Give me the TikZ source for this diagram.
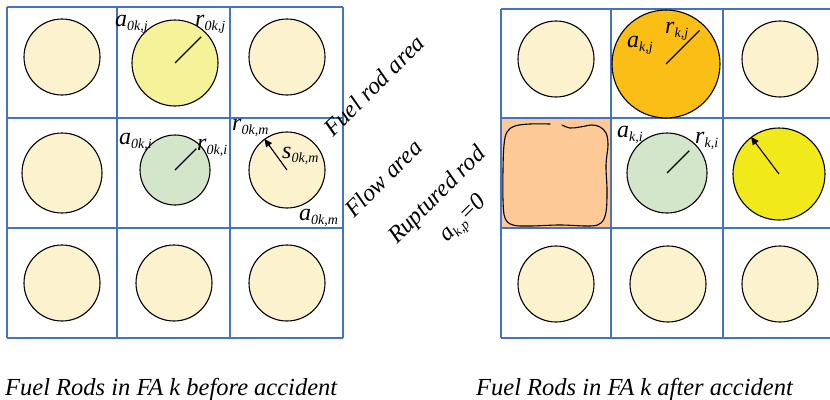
\documentclass[tikz,border=0pt]{standalone}
\usepackage{fontspec}
\setmainfont{Liberation Serif}
\usetikzlibrary{positioning, calc, arrows.meta}

\definecolor{gridblue}{HTML}{4472C4}
\definecolor{rodpale}{HTML}{FCF2CE}
\definecolor{rodlight}{HTML}{F6F29A}
\definecolor{rodgreen}{HTML}{D3E6C9}
\definecolor{rodorange}{HTML}{FBBE14}
\definecolor{rodpeach}{HTML}{FCC997}
\definecolor{rodyellow}{HTML}{F1E91A}

% label with a lowered subscript
\newcommand{\pinlabel}[2]{{\fontsize{24}{24}\selectfont\itshape #1}\raisebox{-4pt}{\fontsize{14}{14}\selectfont\itshape #2}}

\begin{document}
\begin{tikzpicture}[
    % GLOBAL CFG
    x=1pt, y=-1pt,
    % Styles
    grid/.style={% cell borders
        draw=gridblue,
        line width=1.6pt,
        },
    rod/.style={% fuel rod cross section
        circle,
        draw,
        line width=1.1pt,
        inner sep=0pt,
        minimum size=76pt,
        fill=rodpale,
        },
    radius/.style={% radius of a rod
        line width=1.1pt,
        },
    lbl/.style={% labels at the rods
        inner sep=0pt,
        anchor=base west,
        },
    slanted/.style={% rotated notes between the panels
        inner sep=0pt,
        anchor=base west,
        rotate=45,
        font=\fontsize{24}{24}\selectfont\itshape,
        },
    caption/.style={% panel titles
        inner sep=0pt,
        anchor=base west,
        font=\fontsize{24.5}{24.5}\selectfont\itshape,
        },
    ]
\useasboundingbox (0,0) rectangle (830,399);

% Left panel: before accident
\foreach \gx in {7,117,230,343}
    \draw [grid] (\gx,7) -- (\gx,338);
\foreach \gy in {7,118,228,338}
    \draw [grid] (7,\gy) -- (343,\gy);

\node [rod] (L11) at (62,57) {};
\node [rod, minimum size=86pt, fill=rodlight] (L12) at (175,63) {};
\node [rod] (L13) at (287,57) {};
\node [rod, minimum size=80pt] (L21) at (62,173) {};
\node [rod, minimum size=70pt, fill=rodgreen] (L22) at (175,170) {};
\node [rod] (L23) at (287,170) {};
\node [rod] (L31) at (62,283) {};
\node [rod] (L32) at (174,283) {};
\node [rod] (L33) at (287,283) {};

\draw [radius] (L12.center) -- ($(L12.center)!0.85!(L12.45)$);
\draw [radius] (L22.center) -- ($(L22.center)!0.85!(L22.45)$);
\draw [radius, -{Triangle[length=8pt, width=7pt]}] (L23.center) -- (L23.126);

\node [lbl] (a0kj) at (115,26) {\pinlabel{a}{0k,j}};
\node [lbl] (r0kj) at (195,26) {\pinlabel{r}{0k,j}};
\node [lbl] (a0ki) at (119,144) {\pinlabel{a}{0k,i}};
\node [lbl] (r0ki) at (197,150) {\pinlabel{r}{0k,i}};
\node [lbl] (r0km) at (232,130) {\pinlabel{r}{0k,m}};
\node [lbl] (s0km) at (282,158) {\pinlabel{s}{0k,m}};
\node [lbl] (a0km) at (299,220) {\pinlabel{a}{0k,m}};

% Notes between the panels
\node [slanted] (fuelarea) at (333,138) {Fuel rod area};
\node [slanted] (flowarea) at (354,219) {Flow area};
\node [slanted] (rupt) at (397,245) {Ruptured rod};
\node [slanted] (akp) at (447,243) {\pinlabel{a}{k,p}{\fontsize{24}{24}\selectfont =0}};

% Right panel: after accident
\fill [rodpeach] (501,118) rectangle (611,228);
\foreach \gx in {501,611,723}
    \draw [grid] (\gx,9) -- (\gx,338);
\foreach \gy in {9,118,228,338}
    \draw [grid] (501,\gy) -- (830,\gy);

\node [rod] (R11) at (556,59) {};
\node [rod, minimum size=108pt, fill=rodorange] (R12) at (666,64) {};
\node [rod] (R13) at (780,59) {};
\node [rod, minimum size=80pt, fill=rodgreen] (R22) at (667,173) {};
\node [rod, minimum size=92pt, fill=rodyellow] (R23) at (779,174) {};
\node [rod] (R31) at (556,284) {};
\node [rod] (R32) at (668,284) {};
\node [rod] (R33) at (780,284) {};

% ruptured rod outline
\draw [line width=1.1pt, line cap=round] plot [smooth, tension=0.6] coordinates {
    (562,125) (570,128) (580,127) (592,125) (600,127) (606,133) (608,145)
    (606,165) (607,190) (606,212) (601,223) (590,226) (560,225) (530,226)
    (513,225) (505,218) (503,200) (503,170) (504,145) (507,132) (515,126)
    (530,124) (550,124)};

\draw [radius] (R12.center) -- ($(R12.center)!0.87!(R12.45)$);
\draw [radius] (R22.center) -- ($(R22.center)!0.78!(R22.45)$);
\draw [radius, -{Triangle[length=8pt, width=7pt]}] (R23.center) -- (R23.127);

\node [lbl] (akj) at (627,47) {\pinlabel{a}{k,j}};
\node [lbl] (rkj) at (665,33) {\pinlabel{r}{k,j}};
\node [lbl] (aki) at (617,137) {\pinlabel{a}{k,i}};
\node [lbl] (rki) at (695,143) {\pinlabel{r}{k,i}};

% Captions
\node [caption] (capl) at (5,395) {Fuel Rods in FA k before accident};
\node [caption] (capr) at (476,395) {Fuel Rods in FA k after accident};
\end{tikzpicture}
\end{document}
